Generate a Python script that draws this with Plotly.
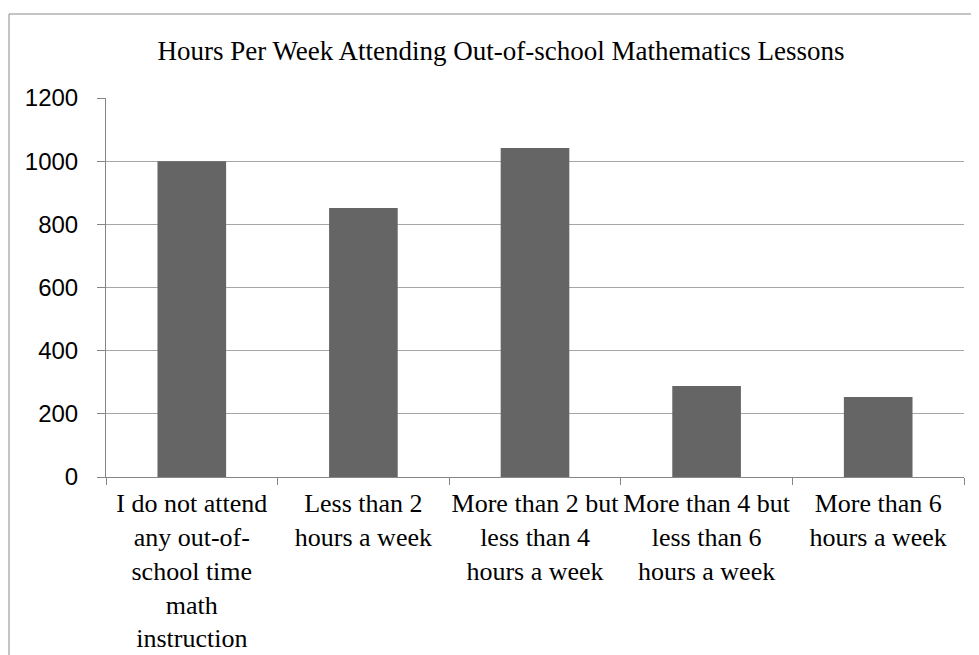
import plotly.graph_objects as go

categories = [
    "I do not attend<br>any out-of-<br>school time<br>math<br>instruction",
    "Less than 2<br>hours a week",
    "More than 2 but<br>less than 4<br>hours a week",
    "More than 4 but<br>less than 6<br>hours a week",
    "More than 6<br>hours a week",
]
values = [1000, 852, 1042, 288, 253]
y_ticks = [0, 200, 400, 600, 800, 1000, 1200]

# page is rendered with an 8px body margin, so the figure is offset by 8px
OFF = 8
W, H = 979 - OFF, 655 - OFF
ML, MR, MT, MB = 106 - OFF, 15, 98 - OFF, 178
pw = W - ML - MR
ph = H - MT - MB

fig = go.Figure(go.Bar(
    x=categories, y=values,
    marker=dict(color="#656565", line=dict(width=0)),
    width=0.40,
))

serif = "Liberation Serif, Times New Roman, serif"
sans = "Liberation Sans, Arial, sans-serif"

fig.update_layout(
    width=W, height=H,
    margin=dict(l=ML, r=MR, t=MT, b=MB, autoexpand=False),
    paper_bgcolor="white", plot_bgcolor="white",
    showlegend=False,
    title=dict(
        text="Hours Per Week Attending Out-of-school Mathematics Lessons",
        x=(501 - OFF) / W, xref="container", xanchor="center",
        y=1 - (51 - OFF) / H, yref="container", yanchor="middle",
        font=dict(family=serif, size=27, color="black"),
    ),
    xaxis=dict(
        showline=True, linecolor="#868686", linewidth=1,
        ticks="outside", tickson="boundaries", ticklen=7, tickcolor="#868686",
        tickfont=dict(family=serif, size=26, color="black"),
        tickangle=0, automargin=False, ticklabelstandoff=3,
        showgrid=False,
    ),
    yaxis=dict(
        range=[0, 1200], tickvals=y_ticks,
        showline=True, linecolor="#868686", linewidth=1,
        ticks="outside", ticklen=8, tickcolor="#868686",
        showgrid=True, gridcolor="#a6a6a6", gridwidth=1,
        tickfont=dict(family=sans, size=24, color="black"),
        ticklabelstandoff=14, automargin=False,
        zeroline=False,
    ),
)

# outer chart border (top and left edges visible in the reference)
left = (9 - OFF - ML) / pw
top = 1 + (MT - (14 - OFF)) / ph
bottom = -(MB + 5) / ph
right = (W + 5 - ML) / pw
fig.add_shape(type="line", xref="paper", yref="paper",
              x0=left, y0=bottom, x1=left, y1=top,
              line=dict(color="#8a8a8a", width=1))
fig.add_shape(type="line", xref="paper", yref="paper",
              x0=left, y0=top, x1=right, y1=top,
              line=dict(color="#8a8a8a", width=1))

fig.write_html("out.html")
